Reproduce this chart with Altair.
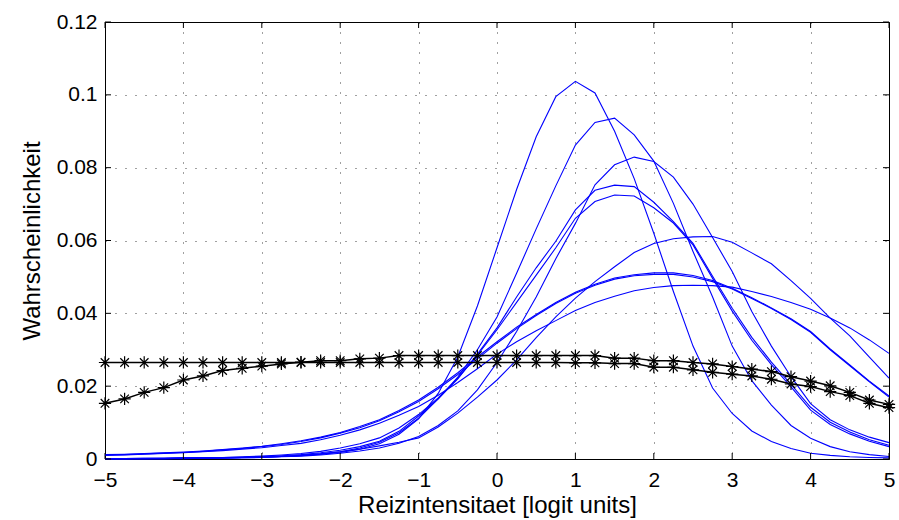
import altair as alt
import pandas as pd

x_vals = [-5, -4.75, -4.5, -4.25, -4, -3.75, -3.5, -3.25, -3, -2.75, -2.5, -2.25, -2, -1.75,
          -1.5, -1.25, -1, -0.75, -0.5, -0.25, 0, 0.25, 0.5, 0.75, 1, 1.25, 1.5, 1.75, 2, 2.25,
          2.5, 2.75, 3, 3.25, 3.5, 3.75, 4, 4.25, 4.5, 4.75, 5]

blue_1 = [0.0001, 0.0001, 0.0001, 0.0001, 0.0002, 0.0002, 0.0003, 0.0004, 0.0005, 0.0007, 0.0009,
          0.0013, 0.0018, 0.0027, 0.0042, 0.0068, 0.0110, 0.0180, 0.0280, 0.0420, 0.0580, 0.0740,
          0.0885, 0.0995, 0.1037, 0.1005, 0.0900, 0.0770, 0.0620, 0.0460, 0.0310, 0.0195, 0.0125,
          0.0077, 0.0048, 0.0029, 0.0016, 0.0010, 0.0006, 0.0004, 0.0003]
blue_2 = [0.0001, 0.0001, 0.0001, 0.0001, 0.0002, 0.0002, 0.0003, 0.0004, 0.0005, 0.0007, 0.0010,
          0.0014, 0.0020, 0.0030, 0.0046, 0.0072, 0.0112, 0.0165, 0.0225, 0.0300, 0.0390, 0.0510,
          0.0632, 0.0750, 0.0862, 0.0924, 0.0936, 0.0890, 0.0818, 0.0702, 0.0570, 0.0445, 0.0310,
          0.0215, 0.0148, 0.0092, 0.0057, 0.0034, 0.0020, 0.0012, 0.0007]
blue_3 = [0.0001, 0.0001, 0.0001, 0.0001, 0.0001, 0.0002, 0.0002, 0.0003, 0.0004, 0.0006, 0.0008,
          0.0011, 0.0016, 0.0022, 0.0030, 0.0043, 0.0062, 0.0092, 0.0132, 0.0190, 0.0265, 0.0350,
          0.0445, 0.0550, 0.0647, 0.0753, 0.0808, 0.0829, 0.0817, 0.0774, 0.0700, 0.0608, 0.0515,
          0.0405, 0.0310, 0.0226, 0.0152, 0.0108, 0.0080, 0.0060, 0.0045]
blue_4 = [0.0001, 0.0001, 0.0002, 0.0002, 0.0003, 0.0003, 0.0004, 0.0005, 0.0007, 0.0009, 0.0012,
          0.0017, 0.0024, 0.0034, 0.0049, 0.0076, 0.0118, 0.0165, 0.0220, 0.0288, 0.0360, 0.0445,
          0.0525, 0.0598, 0.0684, 0.0738, 0.0752, 0.0748, 0.0705, 0.0652, 0.0592, 0.0502, 0.0414,
          0.0334, 0.0266, 0.0205, 0.0142, 0.0101, 0.0074, 0.0053, 0.0038]
blue_5 = [0.0001, 0.0001, 0.0002, 0.0002, 0.0003, 0.0003, 0.0004, 0.0006, 0.0008, 0.0011, 0.0015,
          0.0021, 0.0030, 0.0042, 0.0058, 0.0085, 0.0122, 0.0168, 0.0222, 0.0285, 0.0355, 0.0430,
          0.0505, 0.0580, 0.0661, 0.0707, 0.0725, 0.0722, 0.0690, 0.0648, 0.0588, 0.0496, 0.0406,
          0.0326, 0.0259, 0.0198, 0.0134, 0.0095, 0.0069, 0.0049, 0.0034]
blue_6 = [0.0001, 0.0001, 0.0001, 0.0002, 0.0002, 0.0003, 0.0003, 0.0004, 0.0005, 0.0007, 0.0010,
          0.0014, 0.0020, 0.0027, 0.0036, 0.0046, 0.0058, 0.0088, 0.0126, 0.0170, 0.0217, 0.0272,
          0.0333, 0.0390, 0.0442, 0.0487, 0.0528, 0.0567, 0.0592, 0.0605, 0.0610, 0.0611, 0.0595,
          0.0566, 0.0536, 0.0490, 0.0441, 0.0387, 0.0338, 0.0280, 0.0222]
blue_7 = [0.0012, 0.0013, 0.0015, 0.0017, 0.0019, 0.0022, 0.0026, 0.0030, 0.0035, 0.0042, 0.0050,
          0.0060, 0.0073, 0.0089, 0.0108, 0.0133, 0.0162, 0.0197, 0.0237, 0.0280, 0.0322, 0.0362,
          0.0397, 0.0430, 0.0458, 0.0480, 0.0497, 0.0506, 0.0511, 0.0511, 0.0504, 0.0490, 0.0469,
          0.0443, 0.0415, 0.0385, 0.0350, 0.0302, 0.0258, 0.0214, 0.0173]
blue_8 = [0.0011, 0.0012, 0.0014, 0.0016, 0.0018, 0.0021, 0.0025, 0.0029, 0.0034, 0.0040, 0.0048,
          0.0058, 0.0071, 0.0086, 0.0105, 0.0130, 0.0158, 0.0193, 0.0232, 0.0275, 0.0318, 0.0358,
          0.0394, 0.0427, 0.0455, 0.0477, 0.0494, 0.0503, 0.0507, 0.0507, 0.0500, 0.0487, 0.0467,
          0.0441, 0.0413, 0.0383, 0.0348, 0.0300, 0.0256, 0.0212, 0.0170]
blue_9 = [0.0010, 0.0011, 0.0013, 0.0015, 0.0017, 0.0020, 0.0023, 0.0027, 0.0031, 0.0037, 0.0043,
          0.0053, 0.0065, 0.0080, 0.0098, 0.0120, 0.0144, 0.0175, 0.0210, 0.0248, 0.0288, 0.0322,
          0.0352, 0.0380, 0.0408, 0.0430, 0.0447, 0.0462, 0.0471, 0.0476, 0.0477, 0.0476, 0.0472,
          0.0460, 0.0446, 0.0430, 0.0411, 0.0387, 0.0360, 0.0327, 0.0290]

black_a = [0.0153, 0.0165, 0.0183, 0.0196, 0.0217, 0.0228, 0.0243, 0.0249, 0.0255, 0.0261, 0.0266,
           0.0270, 0.0270, 0.0275, 0.0277, 0.0284, 0.0284, 0.0284, 0.0284, 0.0284, 0.0284, 0.0284,
           0.0284, 0.0284, 0.0284, 0.0284, 0.0277, 0.0277, 0.0270, 0.0270, 0.0265, 0.0261, 0.0254,
           0.0247, 0.0240, 0.0226, 0.0214, 0.0201, 0.0183, 0.0162, 0.0150]
black_b = [0.0265, 0.0265, 0.0265, 0.0265, 0.0265, 0.0265, 0.0265, 0.0265, 0.0265, 0.0265, 0.0265,
           0.0265, 0.0265, 0.0265, 0.0265, 0.0265, 0.0265, 0.0265, 0.0265, 0.0265, 0.0265, 0.0265,
           0.0265, 0.0265, 0.0264, 0.0264, 0.0262, 0.0262, 0.0252, 0.0252, 0.0245, 0.0238, 0.0233,
           0.0228, 0.0219, 0.0206, 0.0199, 0.0185, 0.0174, 0.0153, 0.0141]

x_ticks = [-5, -4, -3, -2, -1, 0, 1, 2, 3, 4, 5]
y_ticks = [0, 0.02, 0.04, 0.06, 0.08, 0.1, 0.12]

blue_series = [blue_1, blue_2, blue_3, blue_4, blue_5, blue_6, blue_7, blue_8, blue_9]
rows = []
for k, s in enumerate(blue_series):
    for xv, yv in zip(x_vals, s):
        rows.append({"x": xv, "p": yv, "series": f"b{k + 1}"})
df_blue = pd.DataFrame(rows)

rows = []
for name, s in [("a", black_a), ("b", black_b)]:
    for xv, yv in zip(x_vals, s):
        rows.append({"x": xv, "p": yv, "series": name})
df_black = pd.DataFrame(rows)

W, H = 784, 437
FONT = "Liberation Sans"

xscale = alt.Scale(domain=[-5, 5], nice=False, zero=False)
yscale = alt.Scale(domain=[0, 0.12], nice=False, zero=False)
xaxis = alt.Axis(values=x_ticks, title="Reizintensitaet [logit units]", grid=True,
                 ticks=False, tickSize=0, labelPadding=10, titlePadding=3,
                 labelFlush=False, labelOverlap=False)
yaxis = alt.Axis(values=y_ticks, format=".2~f", title="Wahrscheinlichkeit", grid=True,
                 ticks=False, tickSize=0, labelPadding=8, titlePadding=12,
                 labelFlush=False, labelOverlap=False)

blue = alt.Chart(df_blue).mark_line(color="#0000ff", strokeWidth=1.1).encode(
    x=alt.X("x:Q", scale=xscale, axis=xaxis),
    y=alt.Y("p:Q", scale=yscale, axis=yaxis),
    detail="series:N",
)

black_line = alt.Chart(df_black).mark_line(color="black", strokeWidth=1.5).encode(
    x=alt.X("x:Q", scale=xscale, axis=xaxis),
    y=alt.Y("p:Q", scale=yscale, axis=yaxis),
    detail="series:N",
)

asterisk = "M-1,0L1,0M0,-1L0,1M-0.7,-0.7L0.7,0.7M-0.7,0.7L0.7,-0.7"
black_pts = alt.Chart(df_black).mark_point(
    shape=asterisk, filled=False, stroke="black", strokeWidth=1.2, size=150, opacity=1
).encode(
    x=alt.X("x:Q", scale=xscale, axis=xaxis),
    y=alt.Y("p:Q", scale=yscale, axis=yaxis),
)

xt = pd.DataFrame({"x": x_ticks})
yt = pd.DataFrame({"p": y_ticks})
tick_len = 6
xt_bottom = alt.Chart(xt).mark_rule(color="black", strokeWidth=1).encode(
    x=alt.X("x:Q", scale=xscale, axis=xaxis), y=alt.value(H), y2=alt.value(H - tick_len))
xt_top = alt.Chart(xt).mark_rule(color="black", strokeWidth=1).encode(
    x=alt.X("x:Q", scale=xscale, axis=xaxis), y=alt.value(0), y2=alt.value(tick_len))
yt_left = alt.Chart(yt).mark_rule(color="black", strokeWidth=1).encode(
    y=alt.Y("p:Q", scale=yscale, axis=yaxis), x=alt.value(0), x2=alt.value(tick_len))
yt_right = alt.Chart(yt).mark_rule(color="black", strokeWidth=1).encode(
    y=alt.Y("p:Q", scale=yscale, axis=yaxis), x=alt.value(W), x2=alt.value(W - tick_len))

chart = alt.layer(blue, black_line, black_pts, xt_bottom, xt_top, yt_left, yt_right).properties(
    width=W, height=H,
    autosize=alt.AutoSizeParams(type="none"),
    padding={"left": 105, "top": 22, "right": 10, "bottom": 61},
    background="white",
).configure_view(
    stroke="black", strokeWidth=1
).configure_axis(
    domainColor="black", domainWidth=1,
    gridColor="black", gridDash=[1, 9], gridOpacity=0.75, gridWidth=1,
    labelFont=FONT, labelFontSize=21, labelColor="black",
    titleFont=FONT, titleFontSize=24, titleFontWeight="normal", titleColor="black",
)

chart.save("out.html", embed_options={"renderer": "svg", "actions": False})
